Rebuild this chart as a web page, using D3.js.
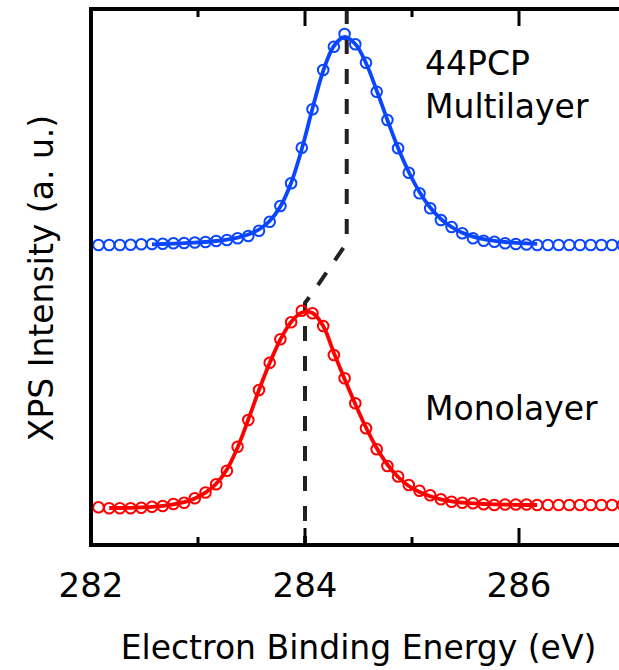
<!DOCTYPE html>
<html>
<head>
<meta charset="utf-8">
<script src="https://cdn.jsdelivr.net/npm/d3@7"></script>
<style>
  html, body { margin: 0; padding: 0; background: #fff; }
  svg { display: block; }
  text { font-family: "DejaVu Sans", sans-serif; fill: #000; }
</style>
</head>
<body>
<svg id="chart" width="619" height="670"></svg>
<script>
// ---- data (binding energy in eV, intensity in arbitrary units) ----
const energy = [282.07,282.17,282.27,282.37,282.47,282.57,282.67,282.77,282.87,282.97,
  283.07,283.17,283.27,283.37,283.47,283.57,283.67,283.77,283.87,283.97,
  284.07,284.17,284.27,284.37,284.47,284.57,284.67,284.77,284.87,284.97,
  285.07,285.17,285.27,285.37,285.47,285.57,285.67,285.77,285.87,285.97,
  286.07,286.17,286.27,286.37,286.47,286.57,286.67,286.77,286.87,286.97];

const multilayerData = [3.00,3.00,3.00,3.003,3.007,3.01,3.013,3.017,3.02,3.025,
  3.03,3.04,3.05,3.067,3.09,3.143,3.233,3.39,3.617,3.973,
  4.357,4.75,4.983,5.11,5.007,4.823,4.533,4.25,3.967,3.723,
  3.517,3.367,3.25,3.18,3.117,3.067,3.043,3.033,3.017,3.01,
  3.005,3.00,3.00,3.00,3.00,3.00,3.00,3.00,3.00,3.00];

const multilayerFit = [null,null,null,null,null,3.007,3.01,3.014,3.018,3.023,
  3.03,3.04,3.054,3.074,3.105,3.155,3.24,3.385,3.62,3.96,
  4.365,4.74,4.99,5.08,5.01,4.82,4.545,4.25,3.97,3.73,
  3.53,3.375,3.26,3.18,3.122,3.084,3.058,3.042,3.03,3.022,
  3.016,3.012,null,null,null,null,null,null,null,null];

const monolayerData = [0.377,0.367,0.367,0.367,0.373,0.383,0.39,0.41,0.423,0.467,
  0.525,0.607,0.743,0.983,1.25,1.55,1.823,2.057,2.227,2.343,
  2.317,2.19,1.90,1.667,1.417,1.167,0.957,0.79,0.685,0.60,
  0.543,0.497,0.457,0.433,0.423,0.417,0.407,0.40,0.405,0.405,
  0.405,0.40,0.40,0.40,0.40,0.40,0.40,0.40,0.40,0.40];

const monolayerFit = [null,0.37,0.37,0.372,0.376,0.382,0.392,0.406,0.428,0.466,
  0.524,0.612,0.755,0.975,1.255,1.55,1.82,2.055,2.23,2.325,
  2.32,2.19,1.92,1.66,1.41,1.175,0.97,0.805,0.68,0.59,
  0.53,0.487,0.457,0.437,0.424,0.416,0.41,0.407,0.404,0.402,
  0.40,0.40,null,null,null,null,null,null,null,null];

// peak-shift guide line (energy, intensity)
const shiftGuideX = [284.39, 284.39, 284.07, 284.0, 284.0];
const shiftGuideY = [5.36, 3.02, 2.52, 2.42, 0];

const majorTicks = [282, 284, 286];
const minorTicks = [283, 285];
const tickLabels = ["282", "284", "286"];
const labels = ["44PCP", "Multilayer", "Monolayer"];
const xTitle = "Electron Binding Energy (eV)";
const yTitle = "XPS Intensity (a. u.)";

// ---- layout ----
const svg = d3.select("#chart");
const mLeft = 91, mTop = 9, mRight = 626, mBottom = 545;
const x = d3.scaleLinear().domain([282, 287]).range([mLeft, mRight]);
const y = d3.scaleLinear().domain([0, 5.36]).range([mBottom, mTop]);

const blue = "#0a46ff", red = "#ff0000";

// dashed guide
svg.append("path")
  .attr("d", d3.line().x(d => x(d[0])).y(d => y(d[1]))(shiftGuideX.map((v, i) => [v, shiftGuideY[i]])))
  .attr("fill", "none").attr("stroke", "#222").attr("stroke-width", 4)
  .attr("stroke-dasharray", "15,15").attr("stroke-dashoffset", 0);

function series(vals, fit, color) {
  const pts = energy.map((e, i) => [e, vals[i]]);
  svg.append("g").selectAll("circle").data(pts).join("circle")
    .attr("cx", d => x(d[0])).attr("cy", d => y(d[1])).attr("r", 5.3)
    .attr("fill", "none").attr("stroke", color).attr("stroke-width", 2);
  const fpts = energy.map((e, i) => [e, fit[i]]);
  svg.append("path")
    .attr("d", d3.line().defined(d => d[1] !== null).x(d => x(d[0])).y(d => y(d[1]))
      .curve(d3.curveCatmullRom)(fpts))
    .attr("fill", "none").attr("stroke", color).attr("stroke-width", 3.8)
    .attr("stroke-linejoin", "round").attr("stroke-linecap", "butt");
}
series(multilayerData, multilayerFit, blue);
series(monolayerData, monolayerFit, red);

// frame
svg.append("rect").attr("x", mLeft).attr("y", mTop).attr("width", mRight - mLeft).attr("height", mBottom - mTop)
  .attr("fill", "none").attr("stroke", "#000").attr("stroke-width", 4);

// ticks (inward, top and bottom)
const tickG = svg.append("g").attr("stroke", "#000").attr("stroke-width", 3);
majorTicks.concat(minorTicks).forEach(t => {
  const len = majorTicks.includes(t) ? 17 : 8;
  tickG.append("line").attr("x1", x(t)).attr("x2", x(t)).attr("y1", mBottom).attr("y2", mBottom - len);
  tickG.append("line").attr("x1", x(t)).attr("x2", x(t)).attr("y1", mTop).attr("y2", mTop + len);
});

majorTicks.forEach((t, i) => {
  svg.append("text").attr("x", x(t)).attr("y", 597).attr("text-anchor", "middle")
    .attr("font-size", 34).text(tickLabels[i]);
});

svg.append("text").attr("x", (mLeft + mRight) / 2).attr("y", 659).attr("text-anchor", "middle")
  .attr("font-size", 33).text(xTitle);
svg.append("text").attr("transform", "translate(53,278) rotate(-90)").attr("text-anchor", "middle")
  .attr("font-size", 33).text(yTitle);

svg.append("text").attr("x", 425).attr("y", 75).attr("font-size", 33).text(labels[0]);
svg.append("text").attr("x", 425).attr("y", 118).attr("font-size", 33).text(labels[1]);
svg.append("text").attr("x", 425).attr("y", 420).attr("font-size", 33).text(labels[2]);
</script>
</body>
</html>
